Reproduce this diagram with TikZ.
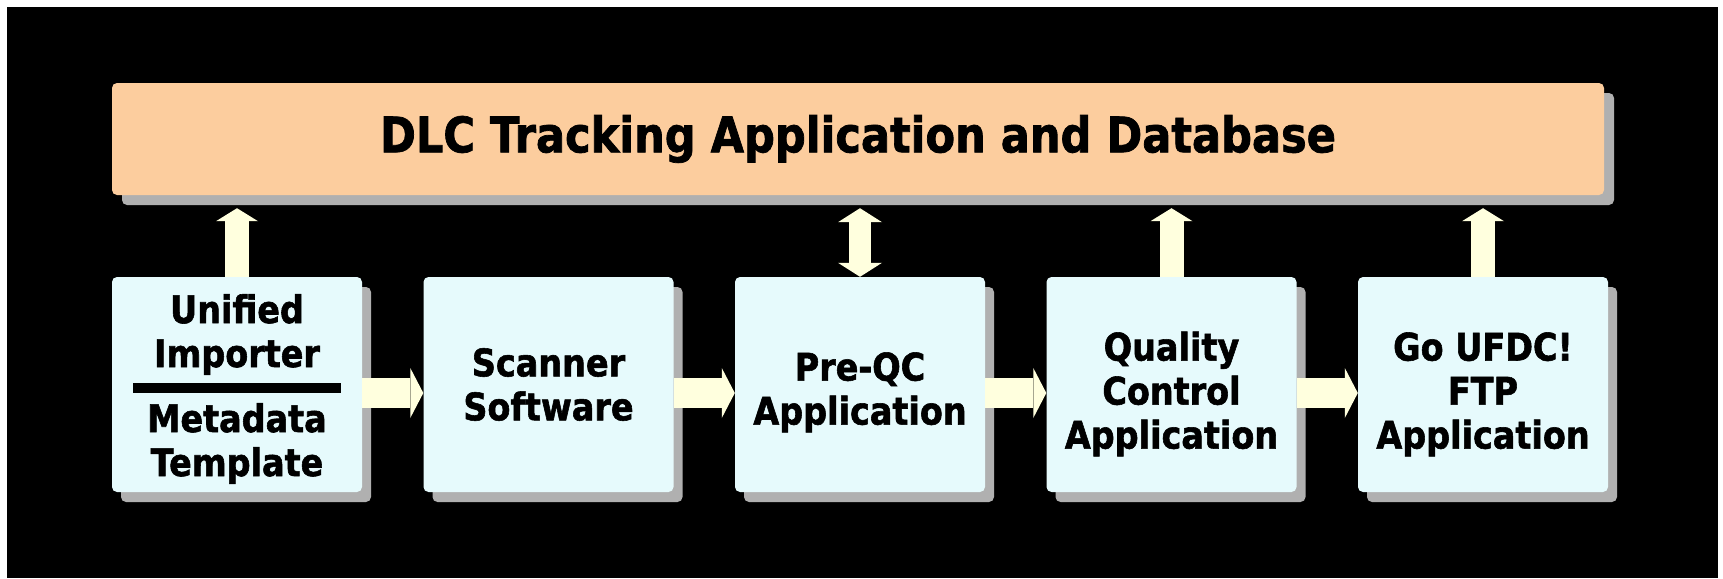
\documentclass[tikz,border=0pt]{standalone}
\usepackage{fontspec}
\setmainfont{DejaVu Sans}[FakeStretch=0.88, BoldFeatures={FakeBold=1.5}]
\usetikzlibrary{arrows.meta,shadows}
\definecolor{peach}{RGB}{252,205,158}
\definecolor{ice}{RGB}{230,250,252}
\definecolor{cream}{RGB}{255,255,222}
\definecolor{shade}{RGB}{176,176,176}
\newcommand{\topgap}[1]{\rule{0pt}{#1pt}}

\begin{document}
\begin{tikzpicture}[x=1pt, y=-1pt,
	bar/.style = {fill=peach, rounded corners=5pt, minimum width=1492pt, minimum height=112pt,
		font=\fontsize{49}{56}\selectfont\bfseries,
		drop shadow={shadow xshift=10pt, shadow yshift=-10pt, fill=shade, opacity=1}},
	b/.style = {fill=ice, rounded corners=5pt, minimum width=250pt, minimum height=215pt, align=center,
		font=\fontsize{38}{44}\selectfont\bfseries,
		drop shadow={shadow xshift=9pt, shadow yshift=-10pt, fill=shade, opacity=1}},
	up/.style = {cream, line width=24pt, shorten >=13pt, -{Triangle[length=13pt, width=42pt, line width=0pt]}},
	both/.style = {cream, line width=22pt, shorten >=13pt,
		{Triangle[length=14pt, width=44pt, line width=0pt]}-{Triangle[length=14pt, width=44pt, line width=0pt]}},
	rt/.style = {cream, line width=30pt, -{Triangle[length=13pt, width=50pt, line width=0pt]}}]
	\useasboundingbox (0,0) rectangle (1723,578);
	\fill[white] (0,0) rectangle (1723,578);
	\fill[black] (7,7) rectangle (1718,578);
	% database bar
	\node[bar] (db) at (858,139) {DLC Tracking Application and Database};
	% the five steps
	\node[b] (1) at (237,384.5) {\topgap{38}Unified\\Importer\\[-18pt]\rule{208pt}{10pt}\\[-5pt]Metadata\\Template};
	\node[b] (2) at (548.5,384.5) {\topgap{28}Scanner\\Software};
	\node[b] (3) at (860,384.5) {\topgap{44}Pre-QC\\Application};
	\node[b] (4) at (1171.5,384.5) {\topgap{48}Quality\\Control\\Application};
	\node[b] (5) at (1483,384.5) {\topgap{48}Go UFDC!\\FTP\\Application};
	% arrows
	\foreach \i/\j in {1/2, 2/3, 3/4, 4/5}
		\draw[rt] ([yshift=-8.5pt]\i.east) -- ([yshift=-8.5pt]\j.west);
	\foreach \i in {1, 4, 5}
		\draw[up] (\i.north) -- (\i.north |- db.south);
	\draw[both] (3.north) -- (3.north |- db.south);
\end{tikzpicture}
\end{document}
